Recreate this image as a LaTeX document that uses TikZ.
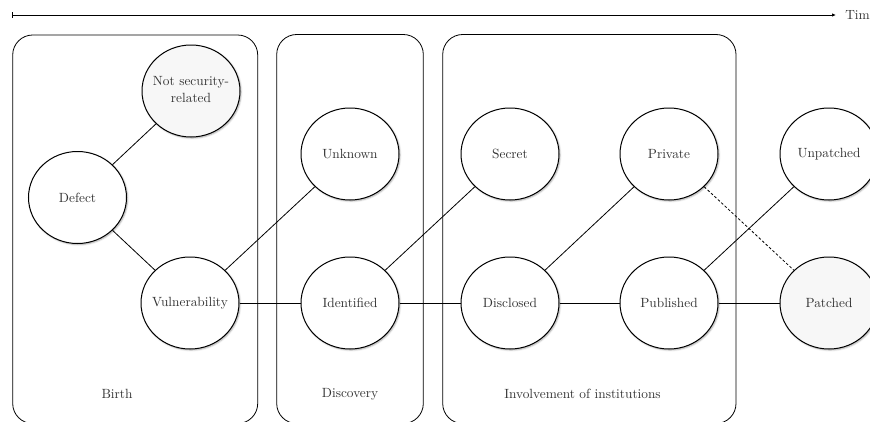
\documentclass[tikz,border=0pt]{standalone}
\usetikzlibrary{shapes.geometric,arrows.meta,shadows.blur}
\definecolor{txt}{HTML}{333333}
\definecolor{lightfill}{HTML}{F7F7F7}
\tikzset{
  state/.style={ellipse, draw, line width=0.75pt, fill=white, inner sep=0pt,
    minimum width=73.5pt, minimum height=69pt, text=txt,
    blur shadow={shadow xshift=0.8pt, shadow yshift=-0.8pt, shadow blur radius=1.2pt, shadow opacity=35}},
  shaded state/.style={state, fill=lightfill},
  phase/.style={draw, line width=0.6pt, rounded corners=15pt},
  link/.style={line width=0.6pt},
  maybe/.style={line width=0.6pt, dash pattern=on 2pt off 1.5pt},
  caption/.style={text=txt, inner sep=0pt},
}
\begin{document}
\begin{tikzpicture}[x=0.75pt, y=-0.75pt]
\useasboundingbox (0,0) rectangle (870,421);
% time axis
\coordinate (tstart) at (12,15);
\node[caption, anchor=west, outer xsep=7pt] (time) at (836,15) {Time};
\draw[link, {Bar[width=4pt]}-{Latex[length=3pt, width=2.6pt]}] (tstart) -- (time.west);
% phases
\draw[phase] (12.7,35) rectangle (257.7,423.5);
\draw[phase] (276.7,34.5) rectangle (423.3,423.5);
\draw[phase] (442.7,34.5) rectangle (736,423.5);
\node[caption] (birth) at (117,394) {Birth};
\node[caption] (discovery) at (350,394) {Discovery};
\node[caption] (inst) at (582.5,394) {Involvement of institutions};
% states
\node[state] (defect) at (77.5,197.5) {\makebox[0pt]{Defect}};
\node[shaded state] (nsr) at (191,91) {\makebox[0pt]{\begin{tabular}{@{}c@{}}Not security-\\[1pt]related\end{tabular}}};
\node[state] (vuln) at (190,303) {\makebox[0pt]{Vulnerability}};
\node[state] (unknown) at (350,154) {\makebox[0pt]{Unknown}};
\node[state] (ident) at (350,303) {\makebox[0pt]{Identified}};
\node[state] (secret) at (510,154) {\makebox[0pt]{Secret}};
\node[state] (discl) at (510,303) {\makebox[0pt]{Disclosed}};
\node[state] (private) at (669,154) {\makebox[0pt]{Private}};
\node[state] (publ) at (669,303) {\makebox[0pt]{Published}};
\node[state] (unpatched) at (829,154) {\makebox[0pt]{Unpatched}};
\node[shaded state] (patched) at (829,303) {\makebox[0pt]{Patched}};
% links
\draw[link] (defect) -- (nsr);
\draw[link] (defect) -- (vuln);
\draw[link] (vuln) -- (unknown);
\draw[link] (vuln) -- (ident);
\draw[link] (ident) -- (secret);
\draw[link] (ident) -- (discl);
\draw[link] (discl) -- (private);
\draw[link] (discl) -- (publ);
\draw[link] (publ) -- (unpatched);
\draw[link] (publ) -- (patched);
\draw[maybe] (private) -- (patched);
\end{tikzpicture}
\end{document}
